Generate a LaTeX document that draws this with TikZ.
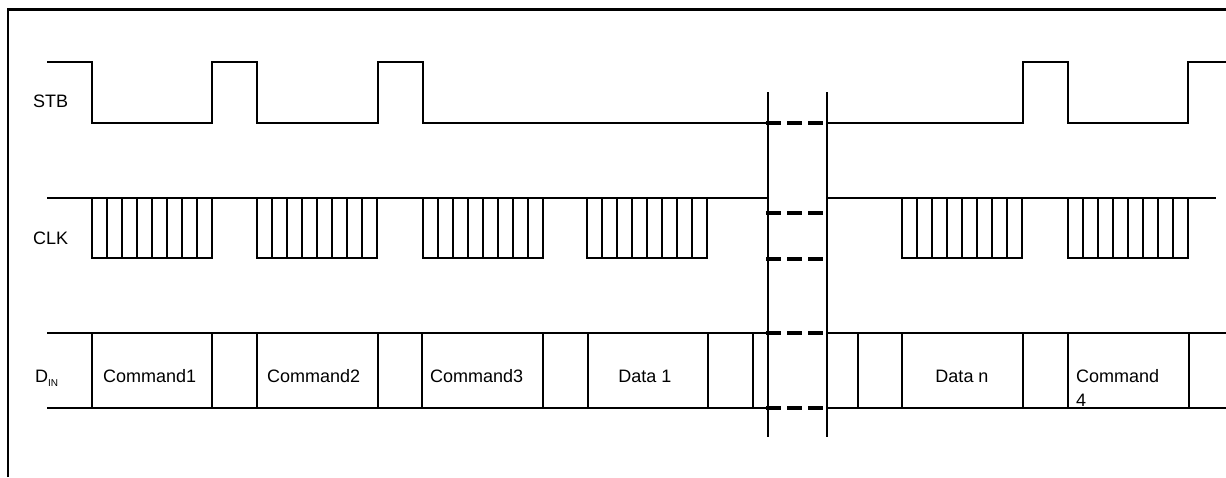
\documentclass[tikz,border=0pt]{standalone}
\usepackage{fontspec}
\setmainfont{Liberation Sans}
\begin{document}
\begin{tikzpicture}[x=1pt,y=-1pt,
  sig/.style={line width=1.1pt,black},
  frameline/.style={line width=2.2pt,black},
  brk/.style={line width=1.3pt,black},
  gapdash/.style={line width=3.2pt,black,dash pattern=on 15pt off 6pt},
  lbl/.style={anchor=base west,inner sep=0pt,font=\fontsize{18}{24}\selectfont},
  celltxt/.style={anchor=base,inner sep=0pt,font=\fontsize{18}{24}\selectfont}]
\useasboundingbox (0,0) rectangle (1226,477);
% frame
\draw[frameline] (8,477) -- (8,9.5) -- (1226,9.5);
% labels
\node[lbl] (stb) at (33,107) {STB};
\node[lbl] (clk) at (33,244) {CLK};
\node[lbl] (din) at (35,382) {D\raisebox{-0.5ex}{\fontsize{10}{12}\selectfont IN}};
% STB
\draw[sig] (47,62) -- (92,62) -- (92,123) -- (212,123) -- (212,62) -- (257,62) -- (257,123)
  -- (378,123) -- (378,62) -- (423,62) -- (423,123) -- (768,123);
\draw[sig] (828,123) -- (1023,123) -- (1023,62) -- (1068,62) -- (1068,123) -- (1188,123)
  -- (1188,62) -- (1226,62);
% CLK
\draw[sig] (47,198) -- (768,198);
\draw[sig] (828,198) -- (1216,198);
\foreach \s in {92,257,423,587,902,1068}{
  \draw[sig] (\s,198) -- (\s,258) -- (\s+120,258) -- (\s+120,198);
  \foreach \k in {1,...,7}{
    \draw[sig] (\s+15*\k,198) -- (\s+15*\k,258);
  }
}
% DIN
\draw[sig] (47,333) -- (768,333);
\draw[sig] (47,408) -- (768,408);
\draw[sig] (828,333) -- (1226,333);
\draw[sig] (828,408) -- (1226,408);
\foreach \x in {92,212,257,378,422,543,588,708,753,858,902,1023,1068,1189}{
  \draw[sig] (\x,333) -- (\x,408);
}
% break
\draw[brk] (768,92) -- (768,437);
\draw[brk] (827,92) -- (827,437);
\foreach \y in {123,213,259,333,408}{
  \draw[gapdash] (766,\y) -- (826,\y);
}
% cell texts
\node[lbl] (c1) at (103,382) {Command1};
\node[lbl] (c2) at (267,382) {Command2};
\node[lbl] (c3) at (430,382) {Command3};
\node[celltxt] (d1) at (645,382) {Data 1};
\node[celltxt] (dn) at (962,382) {Data n};
\node[lbl] (c4) at (1076,382) {Command};
\node[lbl] (c4b) at (1076,406) {4};
\end{tikzpicture}
\end{document}
